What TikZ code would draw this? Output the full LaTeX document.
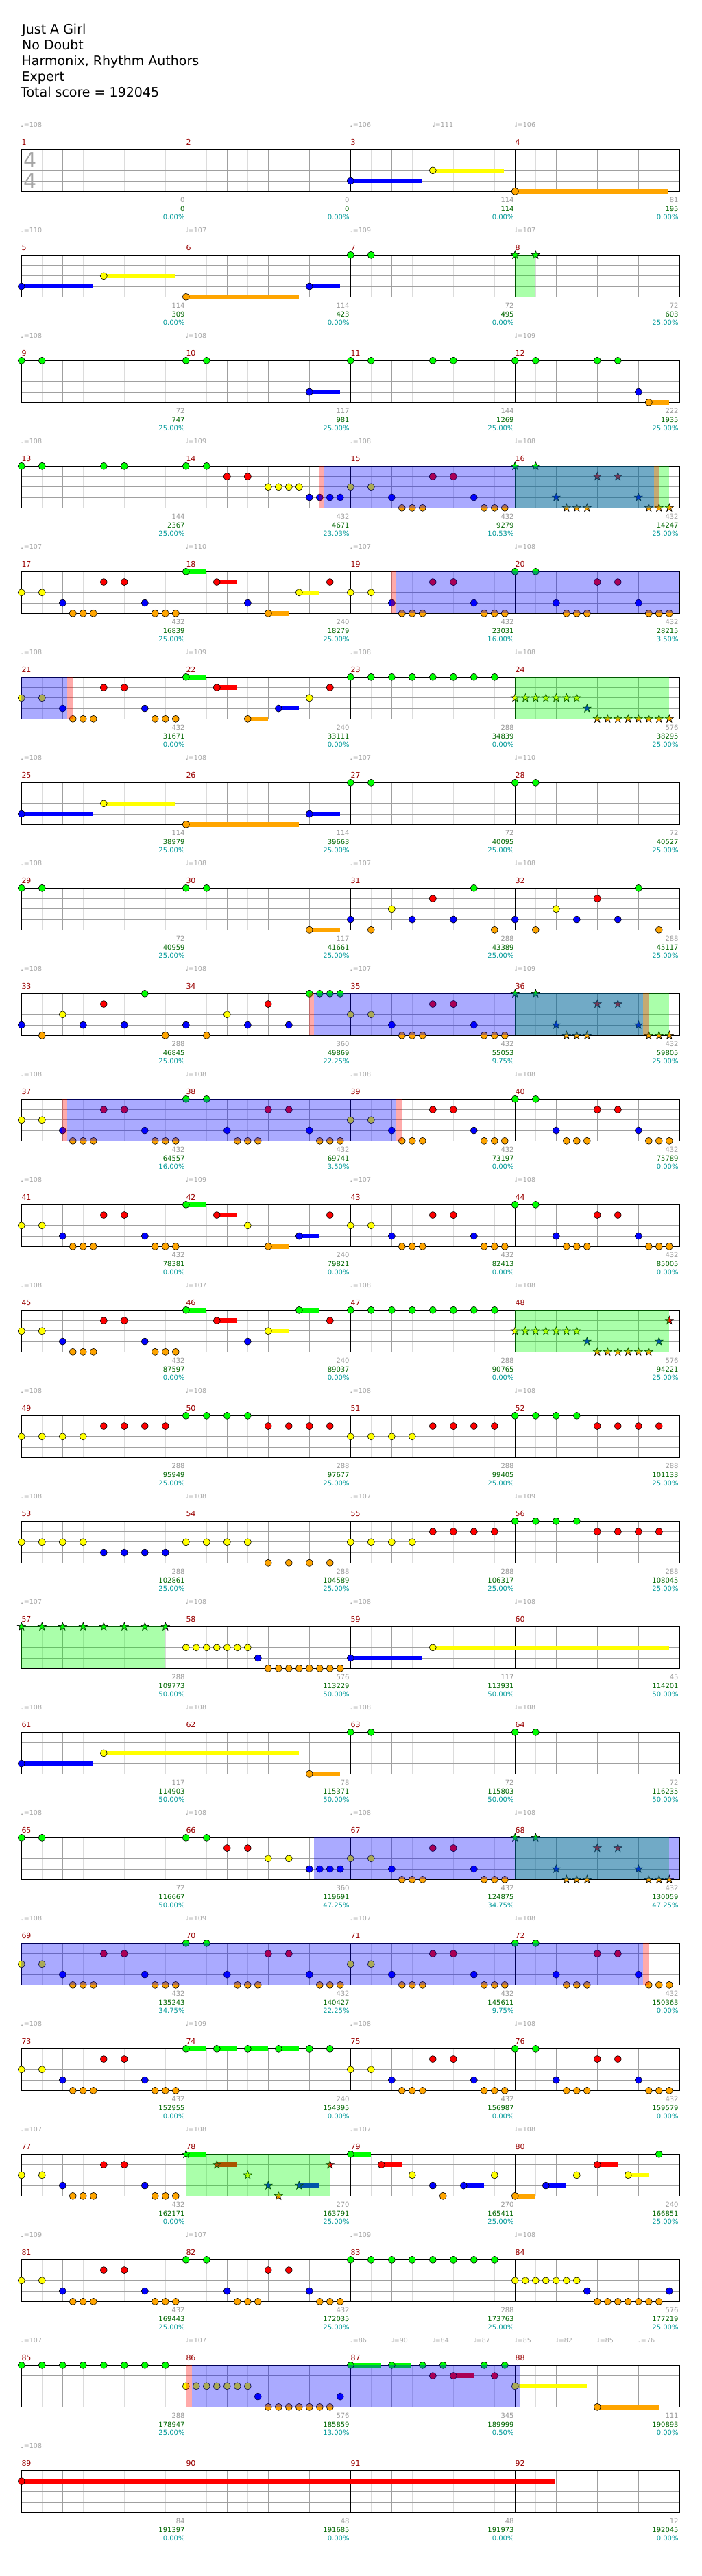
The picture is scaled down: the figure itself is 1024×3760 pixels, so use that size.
\documentclass[tikz,border=0pt]{standalone}
\usepackage{fontspec}
\setmainfont{DejaVu Sans}
\definecolor{cG}{RGB}{0,255,0}
\definecolor{cR}{RGB}{255,0,0}
\definecolor{cY}{RGB}{255,255,0}
\definecolor{cB}{RGB}{0,0,255}
\definecolor{cO}{RGB}{255,165,0}
\definecolor{mred}{RGB}{153,0,0}
\definecolor{sgray}{RGB}{153,153,153}
\definecolor{sgreen}{RGB}{0,102,0}
\definecolor{scyan}{RGB}{0,153,153}
\definecolor{tgray}{RGB}{165,165,165}
\definecolor{gridd}{RGB}{160,160,160}
\definecolor{gridl}{RGB}{220,220,220}
\newcommand\statfont{\fontsize{10}{12}\selectfont}
\newcommand\tempofont{\fontsize{9.5}{11}\selectfont}
\newcommand\mnumfont{\fontsize{11}{12}\selectfont}
\newcommand\setpos[3]{\pgfmathsetmacro\xx{31.3+240*mod(#1-1,4)+30*(#2)}\pgfmathsetmacro\yy{218.3+154*floor((#1-1)/4)+15.25*(#3)}}
\newcommand\nc[4]{\foreach \pp in {#4}{\setpos{#1}{\pp}{#2}\draw[notec,fill=#3] (\xx,\yy) circle[radius=5pt];}}
\newcommand\ns[4]{\foreach \pp in {#4}{\setpos{#1}{\pp}{#2}\draw[notec,fill=#3,shift={(\xx,\yy)}] (90:6.2pt)--(126:2.5pt)--(162:6.2pt)--(198:2.5pt)--(234:6.2pt)--(270:2.5pt)--(306:6.2pt)--(342:2.5pt)--(18:6.2pt)--(54:2.5pt)--cycle;}}
\newcommand\su[5]{\setpos{#1}{#4}{#2}\let\xA\xx\setpos{#1}{#5}{#2}\fill[#3] (\xA,\yy-3.3) rectangle (\xx,\yy+3.3);}
\newcommand\rg[4]{\setpos{#1}{#2}{0}\let\xA\xx\setpos{#1}{#3}{0}\fill[#4] (\xA,\yy) rectangle (\xx,\yy+61);}
\newcommand\pat[3]{\nc{#1}{#2}{#3}{0,1}\nc{#1}{3}{cB}{2,6}\nc{#1}{4}{cO}{2.5,3,3.5,6.5,7,7.5}\nc{#1}{1}{cR}{4,5}}
\newcommand\spat[3]{\ns{#1}{#2}{#3}{0,1}\ns{#1}{3}{cB}{2,6}\ns{#1}{4}{cO}{2.5,3,3.5,6.5,7,7.5}\ns{#1}{1}{cR}{4,5}}
\newcommand\arp[1]{\nc{#1}{3}{cB}{0,3,5}\nc{#1}{4}{cO}{1,7}\nc{#1}{2}{cY}{2}\nc{#1}{1}{cR}{4}\nc{#1}{0}{cG}{6}}
\begin{document}
\begin{tikzpicture}[x=1pt,y=-1pt,
  notec/.style={draw=black,line width=0.6pt},
  gov/.style={fill=cG,fill opacity=0.3333},
  bov/.style={fill=cB,fill opacity=0.3333},
  rov/.style={fill=cR,fill opacity=0.3333},
  lightg/.style={draw=gridl,line width=0.9pt},
  darkg/.style={draw=gridd,line width=0.9pt},
  barl/.style={draw=black,line width=0.9pt},
  border/.style={draw=black,line width=1.3pt},
  ttl/.style={anchor=base west,inner sep=0pt,font=\fontsize{19}{23}\selectfont}]
\useasboundingbox (0,0) rectangle (1024,3760);
\fill[white] (0,0) rectangle (1024,3760);
% title
\node[ttl] (t1) at (32,49.3) {Just A Girl};
\node[ttl] (t2) at (32,72.4) {No Doubt};
\node[ttl] (t3) at (31.5,95.5) {Harmonix, Rhythm Authors};
\node[ttl] (t4) at (31.5,118.6) {Expert};
\node[ttl] (t5) at (30,141.7) {Total score = 192045};
% grid
\foreach \r in {0,...,22}{
  \pgfmathsetmacro\yt{218.3+154*\r}
  \foreach \k in {0,...,15} \draw[lightg] (61.3+60*\k,\yt) -- ++(0,61);
  \foreach \k in {1,...,15} \draw[darkg] (31.3+60*\k,\yt) -- ++(0,61);
  \foreach \s in {1,2,3} \draw[darkg] (31.3,\yt+15.25*\s) -- (991.3,\yt+15.25*\s);
  \foreach \k in {1,2,3} \draw[barl] (31.3+240*\k,\yt) -- ++(0,61);
  \draw[border] (31.3,\yt) rectangle (991.3,\yt+61);
}
\node[text=tgray,inner sep=0pt,font=\fontsize{30}{30}\selectfont] (ts1) at (44.5,234) {4};
\node[text=tgray,inner sep=0pt,font=\fontsize{30}{30}\selectfont] (ts2) at (44.5,264.5) {4};
% measure numbers
\foreach \m in {1,...,92}{\setpos{\m}{0}{0}\node[anchor=base west,inner sep=0pt,text=mred,font=\mnumfont] (mn\m) at (\xx,\yy-6.6) {\m};}
% tempo
\foreach \m/\p/\v in {1/0/108,3/0/106,3/4/111,4/0/106,5/0/110,6/0/107,7/0/109,8/0/107,9/0/108,10/0/108,12/0/109,
 13/0/108,14/0/109,15/0/108,16/0/108,17/0/107,18/0/110,19/0/107,20/0/108,21/0/108,22/0/109,23/0/108,24/0/108,
 25/0/108,26/0/108,27/0/107,28/0/110,29/0/108,30/0/108,31/0/107,32/0/108,33/0/108,34/0/108,35/0/107,36/0/109,
 37/0/108,38/0/108,39/0/108,40/0/108,41/0/108,42/0/109,43/0/107,44/0/108,45/0/108,46/0/107,47/0/108,48/0/108,
 49/0/108,50/0/108,51/0/108,52/0/108,53/0/108,54/0/108,55/0/107,56/0/109,57/0/107,58/0/108,59/0/108,60/0/108,
 61/0/108,62/0/108,63/0/108,64/0/108,65/0/108,66/0/108,67/0/108,68/0/108,69/0/108,70/0/109,71/0/107,72/0/108,
 73/0/108,74/0/109,75/0/108,76/0/108,77/0/107,78/0/108,79/0/107,80/0/108,81/0/109,82/0/107,83/0/109,84/0/108,
 85/0/107,86/0/107,87/0/86,87/2/90,87/4/84,87/6/87,88/0/85,88/2/82,88/4/85,88/6/76,89/0/108}
 {\setpos{\m}{\p}{0}\node[anchor=base west,inner sep=0pt,text=tgray,font=\tempofont] (tp\m-\p) at (\xx-1,\yy-33) {♩=\v};}
% stats
\foreach \m/\a/\b/\c in {1/0/0/0.00,2/0/0/0.00,3/114/114/0.00,4/81/195/0.00,5/114/309/0.00,6/114/423/0.00,7/72/495/0.00,8/72/603/25.00,
 9/72/747/25.00,10/117/981/25.00,11/144/1269/25.00,12/222/1935/25.00,13/144/2367/25.00,14/432/4671/23.03,15/432/9279/10.53,16/432/14247/25.00,
 17/432/16839/25.00,18/240/18279/25.00,19/432/23031/16.00,20/432/28215/3.50,21/432/31671/0.00,22/240/33111/0.00,23/288/34839/0.00,24/576/38295/25.00,
 25/114/38979/25.00,26/114/39663/25.00,27/72/40095/25.00,28/72/40527/25.00,29/72/40959/25.00,30/117/41661/25.00,31/288/43389/25.00,32/288/45117/25.00,
 33/288/46845/25.00,34/360/49869/22.25,35/432/55053/9.75,36/432/59805/25.00,37/432/64557/16.00,38/432/69741/3.50,39/432/73197/0.00,40/432/75789/0.00,
 41/432/78381/0.00,42/240/79821/0.00,43/432/82413/0.00,44/432/85005/0.00,45/432/87597/0.00,46/240/89037/0.00,47/288/90765/0.00,48/576/94221/25.00,
 49/288/95949/25.00,50/288/97677/25.00,51/288/99405/25.00,52/288/101133/25.00,53/288/102861/25.00,54/288/104589/25.00,55/288/106317/25.00,56/288/108045/25.00,
 57/288/109773/50.00,58/576/113229/50.00,59/117/113931/50.00,60/45/114201/50.00,61/117/114903/50.00,62/78/115371/50.00,63/72/115803/50.00,64/72/116235/50.00,
 65/72/116667/50.00,66/360/119691/47.25,67/432/124875/34.75,68/432/130059/47.25,69/432/135243/34.75,70/432/140427/22.25,71/432/145611/9.75,72/432/150363/0.00,
 73/432/152955/0.00,74/240/154395/0.00,75/432/156987/0.00,76/432/159579/0.00,77/432/162171/0.00,78/270/163791/25.00,79/270/165411/25.00,80/240/166851/25.00,
 81/432/169443/25.00,82/432/172035/25.00,83/288/173763/25.00,84/576/177219/25.00,85/288/178947/25.00,86/576/185859/13.00,87/345/189999/0.50,88/111/190893/0.00,
 89/84/191397/0.00,90/48/191685/0.00,91/48/191973/0.00,92/12/192045/0.00}
 {\setpos{\m}{8}{0}
  \node[anchor=base east,inner sep=0pt,text=sgray,font=\statfont] (sa\m) at (\xx-1.5,\yy+76.7) {\a};
  \node[anchor=base east,inner sep=0pt,text=sgreen,font=\statfont] (sb\m) at (\xx-1.5,\yy+89.7) {\b};
  \node[anchor=base east,inner sep=0pt,text=scyan,font=\statfont] (sc\m) at (\xx-1.5,\yy+102.4) {\c\%};}
% notes
\su{3}{3}{cB}{0}{3.48}\nc{3}{3}{cB}{0}\su{3}{2}{cY}{4}{7.47}\nc{3}{2}{cY}{4}
\su{4}{4}{cO}{0}{7.45}\nc{4}{4}{cO}{0}
\su{5}{3}{cB}{0}{3.49}\nc{5}{3}{cB}{0}\su{5}{2}{cY}{4}{7.48}\nc{5}{2}{cY}{4}
\su{6}{4}{cO}{0}{5.48}\nc{6}{4}{cO}{0}\su{6}{3}{cB}{6}{7.48}\nc{6}{3}{cB}{6}
\nc{7}{0}{cG}{0,1}
\ns{8}{0}{cG}{0,1}
\nc{9}{0}{cG}{0,1}
\nc{10}{0}{cG}{0,1}\su{10}{3}{cB}{6}{7.48}\nc{10}{3}{cB}{6}
\nc{11}{0}{cG}{0,1,4,5}
\nc{12}{0}{cG}{0,1,4,5}\nc{12}{3}{cB}{6}\su{12}{4}{cO}{6.5}{7.48}\nc{12}{4}{cO}{6.5}
\nc{13}{0}{cG}{0,1,4,5}
\nc{14}{0}{cG}{0,1}\nc{14}{1}{cR}{2,3}\nc{14}{2}{cY}{4,4.5,5,5.5}\nc{14}{3}{cB}{6,6.5,7,7.5}
\foreach \m in {15,17,19,21,35,37,39,41,43,45,67,69,71,73,75,77,81}{\pat{\m}{2}{cY}}
\foreach \m in {20,38,40,44,70,72,76,82}{\pat{\m}{0}{cG}}
\foreach \m in {16,36,68}{\spat{\m}{0}{cG}}
\su{18}{0}{cG}{0}{1}\nc{18}{0}{cG}{0}\su{18}{1}{cR}{1.5}{2.5}\nc{18}{1}{cR}{1.5,7}\nc{18}{3}{cB}{3}\su{18}{4}{cO}{4}{5}\nc{18}{4}{cO}{4}\su{18}{2}{cY}{5.5}{6.5}\nc{18}{2}{cY}{5.5}
\su{22}{0}{cG}{0}{1}\nc{22}{0}{cG}{0}\su{22}{1}{cR}{1.5}{2.5}\nc{22}{1}{cR}{1.5,7}\su{22}{4}{cO}{3}{4}\nc{22}{4}{cO}{3}\su{22}{3}{cB}{4.5}{5.5}\nc{22}{3}{cB}{4.5}\nc{22}{2}{cY}{6}
\foreach \m in {23,47,83,85}{\nc{\m}{0}{cG}{0,...,7}}
\ns{24}{2}{cY}{0,0.5,...,3}\ns{24}{3}{cB}{3.5}\ns{24}{4}{cO}{4,4.5,...,7.5}
\su{25}{3}{cB}{0}{3.48}\nc{25}{3}{cB}{0}\su{25}{2}{cY}{4}{7.47}\nc{25}{2}{cY}{4}
\su{26}{4}{cO}{0}{5.5}\nc{26}{4}{cO}{0}\su{26}{3}{cB}{6}{7.48}\nc{26}{3}{cB}{6}
\foreach \m in {27,28,29,63,64,65}{\nc{\m}{0}{cG}{0,1}}
\nc{30}{0}{cG}{0,1}\su{30}{4}{cO}{6}{7.48}\nc{30}{4}{cO}{6}
\foreach \m in {31,32,33}{\arp{\m}}
\nc{34}{3}{cB}{0,3,5}\nc{34}{4}{cO}{1}\nc{34}{2}{cY}{2}\nc{34}{1}{cR}{4}\nc{34}{0}{cG}{6,6.5,7,7.5}
\su{42}{0}{cG}{0}{1}\nc{42}{0}{cG}{0}\su{42}{1}{cR}{1.5}{2.5}\nc{42}{1}{cR}{1.5,7}\nc{42}{2}{cY}{3}\su{42}{4}{cO}{4}{5}\nc{42}{4}{cO}{4}\su{42}{3}{cB}{5.5}{6.5}\nc{42}{3}{cB}{5.5}
\su{46}{0}{cG}{0}{1}\nc{46}{0}{cG}{0}\su{46}{1}{cR}{1.5}{2.5}\nc{46}{1}{cR}{1.5,7}\nc{46}{3}{cB}{3}\su{46}{2}{cY}{4}{5}\nc{46}{2}{cY}{4}\su{46}{0}{cG}{5.5}{6.5}\nc{46}{0}{cG}{5.5}
\ns{48}{2}{cY}{0,0.5,...,3}\ns{48}{3}{cB}{3.5,7}\ns{48}{4}{cO}{4,4.5,...,6.5}\ns{48}{1}{cR}{7.5}
\foreach \m in {49,51,55}{\nc{\m}{2}{cY}{0,...,3}\nc{\m}{1}{cR}{4,...,7}}
\foreach \m in {50,52,56}{\nc{\m}{0}{cG}{0,...,3}\nc{\m}{1}{cR}{4,...,7}}
\nc{53}{2}{cY}{0,...,3}\nc{53}{3}{cB}{4,...,7}
\nc{54}{2}{cY}{0,...,3}\nc{54}{4}{cO}{4,...,7}
\ns{57}{0}{cG}{0,...,7}
\nc{58}{2}{cY}{0,0.5,...,3}\nc{58}{3}{cB}{3.5}\nc{58}{4}{cO}{4,4.5,...,7.5}
\su{59}{3}{cB}{0}{3.46}\nc{59}{3}{cB}{0}\su{59}{2}{cY}{4}{15.48}\nc{59}{2}{cY}{4}
\su{61}{3}{cB}{0}{3.48}\nc{61}{3}{cB}{0}\su{61}{2}{cY}{4}{13.5}\nc{61}{2}{cY}{4}
\su{62}{4}{cO}{6}{7.48}\nc{62}{4}{cO}{6}
\nc{66}{0}{cG}{0,1}\nc{66}{1}{cR}{2,3}\nc{66}{2}{cY}{4,5}\nc{66}{3}{cB}{6,6.5,7,7.5}
\su{74}{0}{cG}{0}{1}\su{74}{0}{cG}{1.5}{2.5}\su{74}{0}{cG}{3}{4}\su{74}{0}{cG}{4.5}{5.5}\nc{74}{0}{cG}{0,1.5,3,4.5,6,7}
\su{78}{0}{cG}{0}{1}\su{78}{1}{cR}{1.5}{2.5}\su{78}{3}{cB}{5.5}{6.5}\ns{78}{0}{cG}{0}\ns{78}{1}{cR}{1.5,7}\ns{78}{2}{cY}{3}\ns{78}{3}{cB}{4,5.5}\ns{78}{4}{cO}{4.5}
\su{79}{0}{cG}{0}{1}\su{79}{1}{cR}{1.5}{2.5}\su{79}{3}{cB}{5.5}{6.5}\nc{79}{0}{cG}{0}\nc{79}{1}{cR}{1.5}\nc{79}{2}{cY}{3,7}\nc{79}{3}{cB}{4,5.5}\nc{79}{4}{cO}{4.5}
\su{80}{4}{cO}{0}{1}\su{80}{3}{cB}{1.5}{2.5}\su{80}{1}{cR}{4}{5}\su{80}{2}{cY}{5.5}{6.5}\nc{80}{4}{cO}{0}\nc{80}{3}{cB}{1.5}\nc{80}{2}{cY}{3,5.5}\nc{80}{1}{cR}{4}\nc{80}{0}{cG}{7}
\foreach \m in {84,86}{\nc{\m}{2}{cY}{0,0.5,...,3}\nc{\m}{3}{cB}{3.5,7.5}\nc{\m}{4}{cO}{4,4.5,...,7}}
\su{87}{0}{cG}{0}{1.48}\su{87}{0}{cG}{2}{2.96}\su{87}{1}{cR}{5}{6}\nc{87}{0}{cG}{0,2,3.5,4.5,6.5,7.5}\nc{87}{1}{cR}{4,5,7}
\su{88}{2}{cY}{0}{3.5}\su{88}{4}{cO}{4}{7}\nc{88}{2}{cY}{0}\nc{88}{4}{cO}{4}
\su{89}{1}{cR}{0}{25.95}\nc{89}{1}{cR}{0}
% star power regions
\rg{8}{0}{1}{gov}\rg{16}{0}{7.48}{gov}\rg{24}{0}{7.48}{gov}\rg{36}{0}{7.48}{gov}
\rg{48}{0}{7.48}{gov}\rg{57}{0}{7}{gov}\rg{68}{0}{7.48}{gov}\rg{78}{0}{7}{gov}
% overdrive regions
\rg{14}{6.72}{22.74}{bov}\rg{19}{2.22}{16}{bov}\rg{21}{0}{2.22}{bov}\rg{34}{6.22}{22.21}{bov}
\rg{37}{2.22}{18.22}{bov}\rg{66}{6.22}{24}{bov}\rg{69}{0}{30.21}{bov}\rg{86}{0.3}{16.27}{bov}
% red strips
\rg{14}{6.5}{6.72}{rov}\rg{16}{6.74}{7}{rov}\rg{19}{2}{2.22}{rov}\rg{21}{2.22}{2.48}{rov}
\rg{34}{6}{6.22}{rov}\rg{36}{6.21}{6.5}{rov}\rg{37}{2}{2.22}{rov}\rg{39}{2.22}{2.48}{rov}
\rg{72}{6.21}{6.5}{rov}\rg{86}{0}{0.3}{rov}
\end{tikzpicture}
\end{document}
